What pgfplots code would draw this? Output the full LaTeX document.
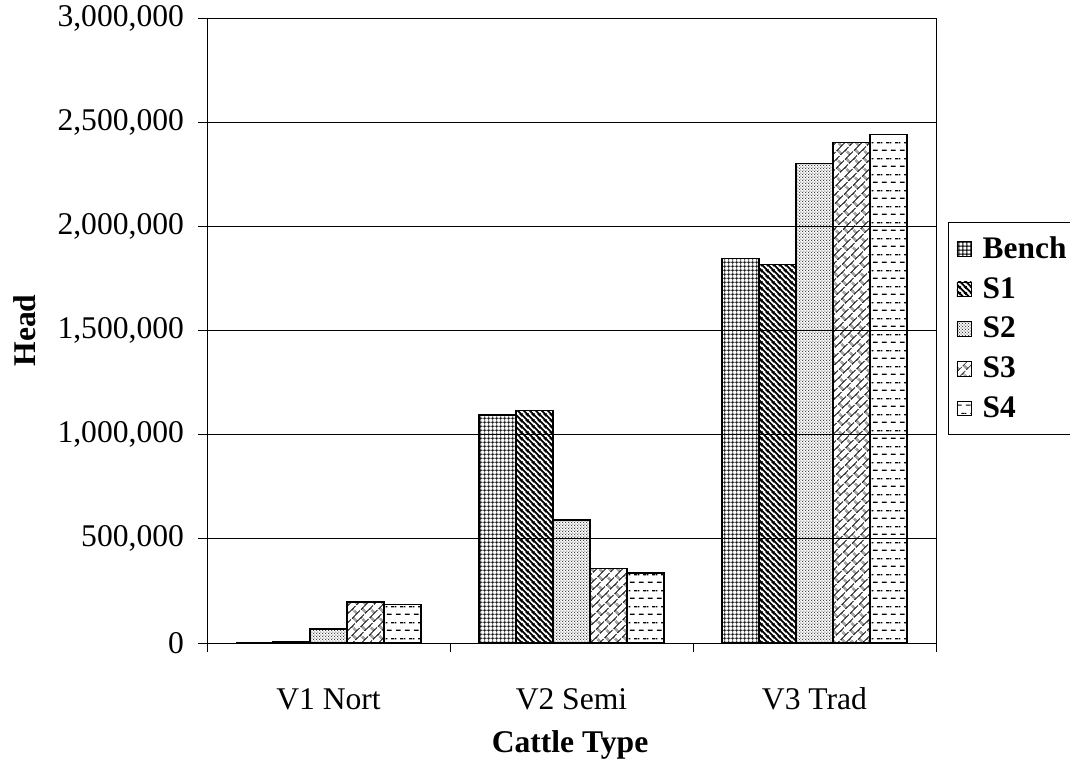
\documentclass[border=0pt]{standalone}
\usepackage{fontspec}
\setmainfont{Liberation Serif}
\usepackage{pgfplots}
\pgfplotsset{compat=1.18}
\usetikzlibrary{patterns,patterns.meta}

% Bench: fine grid
\pgfdeclarepatternformonly{bgrid}{\pgfqpoint{0pt}{0pt}}{\pgfqpoint{1.9pt}{1.9pt}}{\pgfqpoint{1.9pt}{1.9pt}}{%
  \pgfsetlinewidth{0.45pt}%
  \pgfpathmoveto{\pgfqpoint{0pt}{0.95pt}}\pgfpathlineto{\pgfqpoint{1.9pt}{0.95pt}}%
  \pgfpathmoveto{\pgfqpoint{0.95pt}{0pt}}\pgfpathlineto{\pgfqpoint{0.95pt}{1.9pt}}%
  \pgfusepath{stroke}}
% S1: thick NW-SE diagonals
\pgfdeclarepatternformonly{sdiag}{\pgfqpoint{0pt}{0pt}}{\pgfqpoint{3pt}{3pt}}{\pgfqpoint{3pt}{3pt}}{%
  \pgfsetlinewidth{1.0pt}%
  \pgfpathmoveto{\pgfqpoint{-0.5pt}{3.5pt}}\pgfpathlineto{\pgfqpoint{3.5pt}{-0.5pt}}%
  \pgfpathmoveto{\pgfqpoint{-1pt}{1pt}}\pgfpathlineto{\pgfqpoint{1pt}{-1pt}}%
  \pgfpathmoveto{\pgfqpoint{2pt}{4pt}}\pgfpathlineto{\pgfqpoint{4pt}{2pt}}%
  \pgfusepath{stroke}}
% S2: fine dots
\pgfdeclarepatternformonly{sdots}{\pgfqpoint{0pt}{0pt}}{\pgfqpoint{1.6pt}{1.6pt}}{\pgfqpoint{1.6pt}{1.6pt}}{%
  \pgfpathcircle{\pgfqpoint{0.4pt}{0.4pt}}{0.32pt}%
  \pgfpathcircle{\pgfqpoint{1.2pt}{1.2pt}}{0.32pt}%
  \pgfusepath{fill}}
% S4: horizontal dashes
\pgfdeclarepatternformonly{sdash}{\pgfqpoint{0pt}{0pt}}{\pgfqpoint{4.6pt}{8pt}}{\pgfqpoint{4.6pt}{8pt}}{%
  \pgfsetlinewidth{0.6pt}%
  \pgfpathmoveto{\pgfqpoint{0.5pt}{2pt}}\pgfpathlineto{\pgfqpoint{3.0pt}{2pt}}%
  \pgfpathmoveto{\pgfqpoint{2.8pt}{6pt}}\pgfpathlineto{\pgfqpoint{4.6pt}{6pt}}%
  \pgfpathmoveto{\pgfqpoint{0pt}{6pt}}\pgfpathlineto{\pgfqpoint{0.7pt}{6pt}}%
  \pgfusepath{stroke}}
% S3: diagonal bricks
\tikzdeclarepattern{
  name=sbrick,
  type=uncolored,
  bottom left={(0pt,0pt)},
  top right={(6pt,6pt)},
  tile size={(6pt,6pt)},
  tile transformation={rotate=45},
  code={
    \draw[line width=0.45pt] (0pt,0.75pt)--(6pt,0.75pt) (0pt,3.75pt)--(6pt,3.75pt)
      (0.75pt,0.75pt)--(0.75pt,3.75pt) (3.75pt,3.75pt)--(3.75pt,6pt) (3.75pt,0pt)--(3.75pt,0.75pt);
  }
}

\begin{document}
\begin{tikzpicture}
\begin{axis}[
  at={(103.5pt,59pt)}, anchor=south west,
  scale only axis, width=364.5pt, height=312.5pt,
  ybar=0pt, bar width=18.5pt,
  xmin=-0.5, xmax=2.5, ymin=0, ymax=3000000,
  xtick={0,1,2}, xticklabels={V1 Nort, V2 Semi, V3 Trad},
  minor xtick={-0.5,0.5,1.5,2.5},
  major x tick style={draw=none},
  ytick={0,500000,...,3000000},
  tick align=outside, tick pos=left,
  major tick length=4.5pt, minor tick length=4.5pt,
  tick style={black, line width=0.5pt},
  ymajorgrids, grid style={black, line width=0.5pt},
  axis line style={black, line width=0.5pt},
  scaled y ticks=false,
  /pgf/number format/.cd, fixed, precision=0, 1000 sep={,}, assume math mode=true, /pgfplots/.cd,
  ticklabel style={font=\fontsize{15.8}{19}\selectfont},
  yticklabel style={xshift=-3.5pt},
  xticklabel style={anchor=base, yshift=-28.5pt},
  xlabel={\bfseries Cattle Type}, ylabel={\bfseries Head},
  label style={font=\fontsize{15.8}{19}\selectfont},
  xlabel style={at={(axis description cs:0.498,-0.163)}, anchor=center},
  ylabel style={at={(axis description cs:-0.25,0.5)}, anchor=center},
  legend style={at={(axis description cs:1.0165,0.6736)}, anchor=north west, draw=black, line width=0.5pt,
    font=\fontsize{15.7}{19}\selectfont\bfseries, row sep=4pt, column sep=3.5pt, inner xsep=4pt, inner ysep=5pt},
  legend cell align=left,
  legend image code/.code={\draw[#1, line width=0.4pt] (0pt,-3.6pt) rectangle (7.2pt,3.6pt);},
  every axis plot/.append style={draw=black, line width=0.6pt},
]
\addplot[pattern=bgrid] coordinates {(0,0) (1,1094000) (2,1846000)};
\addplot[pattern=sdiag] coordinates {(0,5000) (1,1115000) (2,1817000)};
\addplot[pattern=sdots] coordinates {(0,67000) (1,590000) (2,2302000)};
\addplot[pattern=sbrick] coordinates {(0,197000) (1,358000) (2,2401000)};
\addplot[pattern=sdash] coordinates {(0,186000) (1,336000) (2,2441000)};
\legend{Bench,S1,S2,S3,S4}
\end{axis}
\pgfresetboundingbox
\path[use as bounding box] (0,0) rectangle (535pt,380.5pt);
\end{tikzpicture}
\end{document}
